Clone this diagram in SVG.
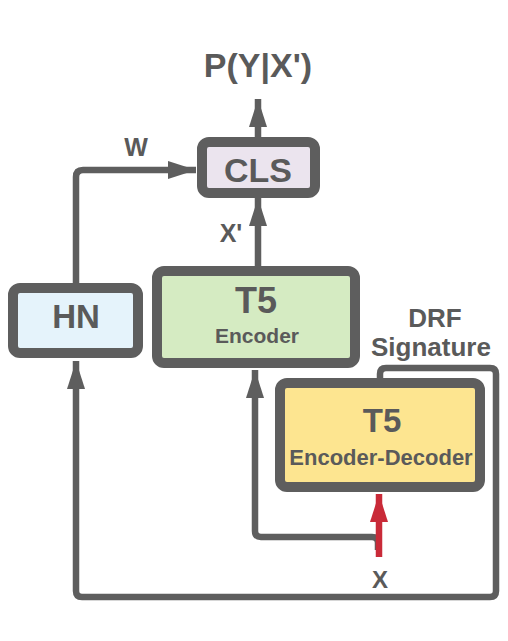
<svg xmlns="http://www.w3.org/2000/svg" width="508" height="641" viewBox="0 0 508 641">
<style>
.box{stroke:#5e5e5e;stroke-width:10}
.t{font-family:"Liberation Sans",Arial,sans-serif;font-weight:bold;fill:#5a5a5a;text-anchor:middle}
.c{fill:none;stroke:#5e5e5e;stroke-width:6.5;stroke-linejoin:round}
</style>
<defs>
<marker id="ah" markerUnits="userSpaceOnUse" markerWidth="30" markerHeight="20" refX="28" refY="9" orient="auto" viewBox="0 0 30 20">
<path d="M0,0 L28,9 L0,18 Z" fill="#5e5e5e"/>
</marker>
<marker id="ahr" markerUnits="userSpaceOnUse" markerWidth="30" markerHeight="20" refX="28" refY="9" orient="auto" viewBox="0 0 30 20">
<path d="M0,0 L28,9 L0,18 Z" fill="#c92a38"/>
</marker>
</defs>
<rect width="508" height="641" fill="#fff"/>
<g id="connectors">
<path class="c" d="M258,138 V99" marker-end="url(#ah)"/>
<path class="c" d="M76,284 V177 Q76,170 83,170 H196" marker-end="url(#ah)"/>
<path class="c" d="M258,267 V198" marker-end="url(#ah)"/>
<path class="c" d="M380,379 V374 Q380,368 386,368 H490 Q496,368 496,374 V591 Q496,597 490,597 H82 Q76,597 76,591 V361" marker-end="url(#ah)"/>
<path class="c" d="M378,550 V543 Q378,537 372,537 H261 Q255,537 255,531 V370" marker-end="url(#ah)"/>
<path d="M379,557 V494" fill="none" stroke="#c92a38" stroke-width="6.5" marker-end="url(#ahr)"/>
</g>
<g id="cls">
<rect class="box" x="202" y="142" width="113" height="51" rx="7" fill="#ebe4ee"/>
<text class="t" x="258" y="182" font-size="34">CLS</text>
</g>
<g id="hn">
<rect class="box" x="13" y="288" width="125" height="65" rx="7" fill="#e5f3fb"/>
<text class="t" x="76" y="328" font-size="33">HN</text>
</g>
<g id="t5enc">
<rect class="box" x="157" y="271" width="198" height="92" rx="7" fill="#d5ebc2"/>
<text class="t" x="256" y="313" font-size="36">T5</text>
<text class="t" x="257" y="343" font-size="21">Encoder</text>
</g>
<g id="t5encdec">
<rect class="box" x="280" y="383" width="200" height="104" rx="7" fill="#fde590"/>
<text class="t" x="382" y="432" font-size="33">T5</text>
<text class="t" x="381" y="465" font-size="22">Encoder-Decoder</text>
</g>
<g id="labels">
<text class="t" x="258" y="77" font-size="34">P(Y|X')</text>
<text class="t" x="136" y="156" font-size="25">W</text>
<text class="t" x="231" y="242" font-size="25">X'</text>
<text class="t" x="435" y="327" font-size="26">DRF</text>
<text class="t" x="431" y="356" font-size="26">Signature</text>
<text class="t" x="380" y="588" font-size="24">X</text>
</g>
</svg>
